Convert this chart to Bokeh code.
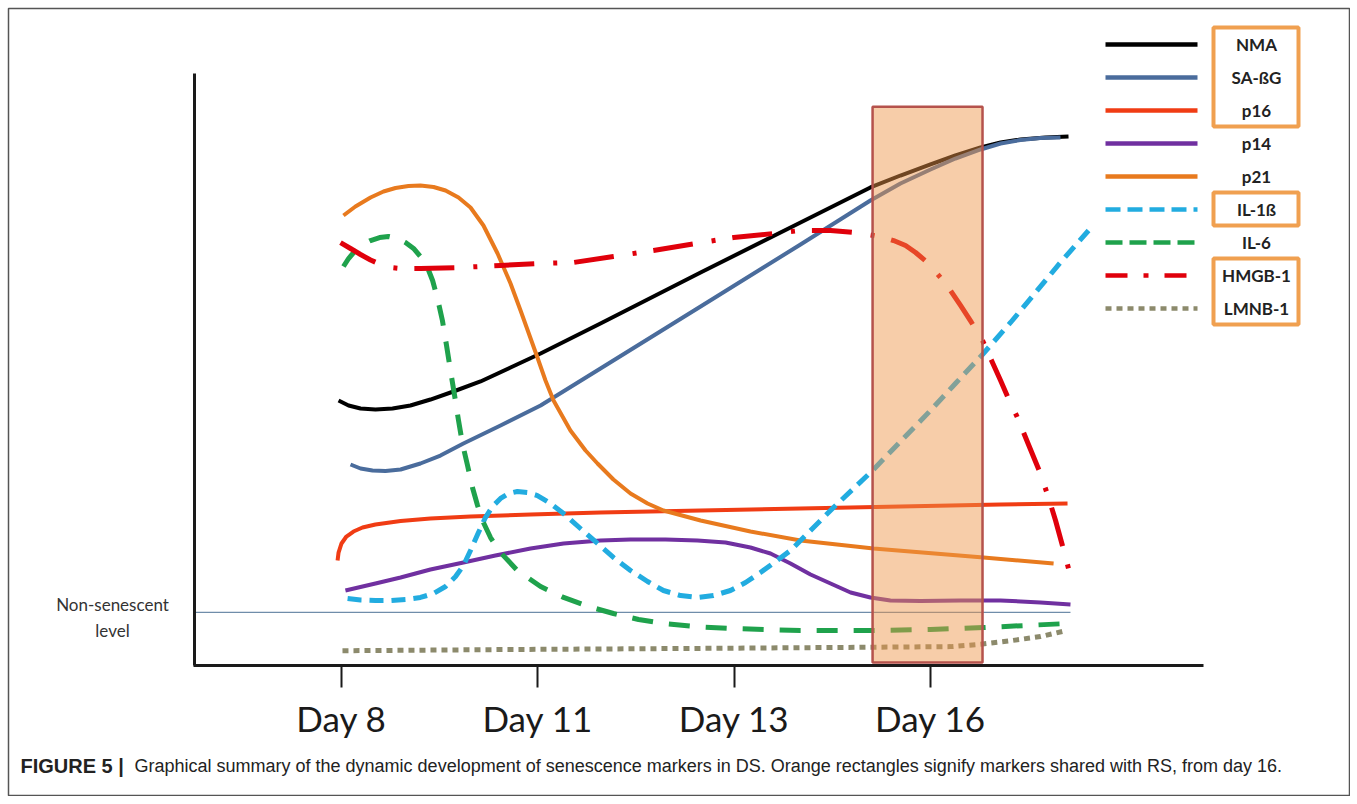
from bokeh.plotting import figure
from bokeh.models import Range1d, LinearAxis, FixedTicker, Label
from bokeh.embed import file_html
from bokeh.resources import INLINE

# ---------------- data (x: position of the day tick, 0 = Day 8; y: marker level) ----------------
days = ["Day 8", "Day 11", "Day 13", "Day 16"]
day_pos = [0, 1, 2, 3]

nma_x = [-0.015, 0.036, 0.097, 0.173, 0.260, 0.351, 0.453, 0.570, 0.708, 0.861, 1.014, 1.319, 1.829, 2.338,
         2.694, 2.847, 3.000, 3.127, 3.255, 3.357, 3.458, 3.586, 3.703]
nma_y = [44.92, 44.07, 43.56, 43.39, 43.56, 44.07, 45.08, 46.44, 48.14, 50.51, 52.88, 57.97, 66.61, 75.08,
         81.02, 83.05, 84.92, 86.44, 87.80, 88.64, 89.15, 89.49, 89.66]

sabg_x = [0.046, 0.097, 0.158, 0.224, 0.301, 0.402, 0.504, 0.621, 0.810, 1.014, 1.319, 1.829, 2.338, 2.694,
          2.847, 3.000, 3.127, 3.255, 3.357, 3.458, 3.560, 3.662]
sabg_y = [34.07, 33.39, 33.05, 32.97, 33.22, 34.24, 35.59, 37.63, 40.68, 44.07, 50.34, 60.85, 71.36, 78.81,
          81.69, 84.07, 85.93, 87.46, 88.47, 89.07, 89.41, 89.49]

p16_x = [-0.020, -0.015, 0.000, 0.025, 0.061, 0.107, 0.173, 0.301, 0.453, 0.657, 0.963, 1.319, 1.829, 2.338,
         2.847, 3.357, 3.698]
p16_y = [17.80, 19.15, 20.68, 21.86, 22.71, 23.39, 23.90, 24.49, 24.92, 25.25, 25.59, 25.93, 26.27, 26.61,
         26.95, 27.29, 27.46]

p14_x = [0.020, 0.173, 0.301, 0.453, 0.621, 0.784, 0.963, 1.131, 1.319, 1.472, 1.650, 1.813, 1.956, 2.083,
         2.185, 2.287, 2.389, 2.491, 2.593, 2.694, 2.796, 2.949, 3.153, 3.357, 3.560, 3.713]
p14_y = [12.71, 13.90, 14.92, 16.27, 17.46, 18.64, 19.83, 20.68, 21.19, 21.36, 21.36, 21.19, 20.85, 20.00,
         18.98, 17.29, 15.42, 13.90, 12.37, 11.53, 11.02, 10.93, 11.02, 11.02, 10.68, 10.34]

p21_x = [0.010, 0.071, 0.148, 0.214, 0.275, 0.341, 0.402, 0.469, 0.530, 0.596, 0.657, 0.723, 0.795, 0.861,
         0.912, 0.998, 1.039, 1.080, 1.166, 1.243, 1.304, 1.385, 1.472, 1.559, 1.640, 1.829, 2.083, 2.338,
         2.710, 3.270, 3.627]
p21_y = [76.27, 77.80, 79.32, 80.34, 80.93, 81.27, 81.36, 81.10, 80.51, 79.32, 77.63, 74.58, 69.83, 64.75,
         60.17, 52.20, 48.31, 44.92, 39.83, 36.44, 34.24, 31.53, 29.15, 27.46, 26.27, 24.58, 22.71, 21.19,
         19.83, 18.31, 17.29]

il1b_x = [0.031, 0.097, 0.173, 0.250, 0.326, 0.402, 0.469, 0.530, 0.581, 0.621, 0.657, 0.693, 0.733, 0.769,
          0.810, 0.851, 0.896, 0.947, 0.998, 1.065, 1.131, 1.217, 1.304, 1.385, 1.472, 1.559, 1.640, 1.727,
          1.813, 1.895, 1.981, 2.058, 2.134, 2.211, 2.287, 2.389, 2.506, 2.603, 2.705, 2.847, 3.000, 3.127,
          3.265, 3.408, 3.535, 3.662, 3.805]
il1b_y = [11.36, 11.10, 11.02, 11.02, 11.19, 11.53, 12.20, 13.39, 15.08, 16.95, 19.49, 22.20, 25.08, 26.95,
          28.31, 29.15, 29.49, 29.32, 28.81, 27.46, 25.76, 23.22, 20.68, 18.31, 16.10, 14.24, 12.71, 11.86,
          11.53, 11.86, 12.71, 14.07, 15.76, 17.63, 19.49, 22.88, 26.78, 29.83, 33.05, 37.97, 43.22, 47.80,
          52.71, 58.14, 63.22, 68.31, 73.73]

il6_x = [0.010, 0.036, 0.071, 0.107, 0.148, 0.194, 0.239, 0.285, 0.326, 0.367, 0.402, 0.438, 0.464, 0.489,
         0.514, 0.535, 0.555, 0.576, 0.596, 0.616, 0.642, 0.667, 0.693, 0.723, 0.759, 0.810, 0.896, 1.014,
         1.131, 1.258, 1.385, 1.513, 1.640, 1.829, 1.981, 2.338, 2.710, 3.000, 3.270, 3.698]
il6_y = [67.63, 68.98, 70.34, 71.36, 72.03, 72.54, 72.71, 72.37, 71.69, 70.68, 69.32, 67.46, 65.25, 62.20,
         58.47, 54.24, 50.00, 45.76, 41.53, 37.63, 33.90, 30.17, 27.12, 24.24, 21.69, 19.15, 16.10, 13.39,
         11.53, 10.00, 8.81, 7.80, 7.12, 6.53, 6.27, 5.93, 5.93, 6.10, 6.44, 7.12]

hmgb_x = [-0.005, 0.046, 0.097, 0.148, 0.199, 0.250, 0.301, 0.402, 0.606, 0.810, 1.014, 1.182, 1.385, 1.589,
          1.803, 1.997, 2.200, 2.338, 2.491, 2.608, 2.710, 2.761, 2.812, 2.873, 2.924, 2.985, 3.051, 3.102,
          3.153, 3.209, 3.265, 3.311, 3.357, 3.397, 3.443, 3.499, 3.560, 3.601, 3.637, 3.672, 3.703]
hmgb_y = [71.69, 70.68, 69.66, 68.73, 67.97, 67.46, 67.29, 67.29, 67.46, 67.80, 68.14, 68.31, 69.32, 70.34,
          71.53, 72.54, 73.22, 73.73, 73.73, 73.39, 72.88, 72.54, 72.03, 71.19, 70.00, 68.31, 65.76, 63.56,
          61.02, 58.14, 55.08, 51.69, 48.31, 45.25, 42.03, 37.46, 32.54, 28.47, 24.58, 20.34, 16.44]

lmnb_x = [0.005, 0.810, 1.829, 2.710, 3.102, 3.255, 3.408, 3.560, 3.688]
lmnb_y = [2.5, 2.7, 2.9, 3.1, 3.2, 3.6, 4.2, 4.9, 5.9]

non_senescent_level = 9.0
non_senescent_span = [-0.749, 3.713]

highlight_x = [2.705, 3.265]   # Day 16 window
highlight_y = [0.5, 94.7]

names = ["NMA", "SA-ßG", "p16", "p14", "p21", "IL-1ß", "IL-6", "HMGB-1", "LMNB-1"]
shared_groups = [(0, 2), (5, 5), (7, 8)]  # legend rows boxed in orange

# ---------------- styles ----------------
series = [
    (nma_x, nma_y, "#000000", "solid", "solid", 4),
    (sabg_x, sabg_y, "#4A6C9C", "solid", "solid", 4),
    (p16_x, p16_y, "#F03C14", "solid", "solid", 4),
    (p14_x, p14_y, "#7030A0", "solid", "solid", 4),
    (p21_x, p21_y, "#E87A1E", "solid", "solid", 4),
    (il1b_x, il1b_y, "#22ACE0", "14 8", "15 7", 5),
    (il6_x, il6_y, "#1FA24C", "21 16", "17 7", 5),
    (hmgb_x, hmgb_y, "#E0000B", "40 19 4 17", "22 16 5 16", 5),
    (lmnb_x, lmnb_y, "#8C8A6C", "6 5", "6 5", 5),
]

# ---------------- layout helpers (page pixels -> data) ----------------
W, H = 1350, 796
OX, OY = 0, 0
DAY0_PX, DAY_STEP = 341.0, 196.33
ZERO_PY, UNIT_PX = 665.0, 5.9


def X(px):
    return (px - DAY0_PX) / DAY_STEP


def Y(py):
    return (ZERO_PY - py) / UNIT_PX


p = figure(width=W, height=H, output_backend="svg", toolbar_location=None,
           x_range=Range1d(X(OX), X(OX + W)), y_range=Range1d(Y(OY + H), Y(OY)),
           x_axis_type=None, y_axis_type=None,
           min_border=0, min_border_left=0, min_border_right=0,
           min_border_top=0, min_border_bottom=0)
p.outline_line_color = None
p.background_fill_color = "white"
p.border_fill_color = "white"

# outer figure frame
p.quad(left=X(8), right=X(1349), bottom=Y(795), top=Y(8), fill_color=None,
       line_color="#555555", line_width=1.5)

# axes
xaxis = LinearAxis(fixed_location=0, bounds=(X(193), X(1203)),
                   ticker=FixedTicker(ticks=day_pos),
                   major_label_overrides={d: lab for d, lab in zip(day_pos, days)})
xaxis.axis_line_width = 3
xaxis.axis_line_color = "#1a1a1a"
xaxis.major_tick_in = 0
xaxis.major_tick_out = 22
xaxis.major_tick_line_width = 2
xaxis.major_tick_line_color = "#1a1a1a"
xaxis.minor_tick_in = 0
xaxis.minor_tick_out = 0
xaxis.major_label_standoff = 9
xaxis.major_label_text_font = "Lato"
xaxis.major_label_text_font_size = "35px"
xaxis.major_label_text_color = "#1a1a1a"
p.add_layout(xaxis, "below")

yaxis = LinearAxis(fixed_location=X(194), bounds=(0, 100.3), ticker=FixedTicker(ticks=[]))
yaxis.axis_line_width = 3
yaxis.axis_line_color = "#1a1a1a"
yaxis.major_tick_in = 0
yaxis.major_tick_out = 0
yaxis.minor_tick_in = 0
yaxis.minor_tick_out = 0
yaxis.major_label_text_font_size = "0px"
p.add_layout(yaxis, "left")

# non-senescent reference line
p.line(non_senescent_span, [non_senescent_level] * 2, line_color="#6F8DAA", line_width=1.3)
p.add_layout(Label(x=X(112), y=Y(604), text="Non-senescent", text_align="center", text_baseline="middle",
                   text_font="Lato", text_font_size="17px", text_color="#333333"))
p.add_layout(Label(x=X(112), y=Y(630), text="level", text_align="center", text_baseline="middle",
                   text_font="Lato", text_font_size="17px", text_color="#333333"))

# curves
for xs, ys, col, dash, _, lw in series:
    p.line(xs, ys, line_color=col, line_width=lw, line_dash=dash,
           line_join="round", line_cap="butt")

# Day 16 highlight rectangle (drawn over the curves)
p.quad(left=highlight_x[0], right=highlight_x[1], bottom=highlight_y[0], top=highlight_y[1],
       fill_color="#EE9548", fill_alpha=0.47, line_color="#B5524C", line_width=2.5)

# legend
ROW0, ROW_STEP = 44, 33.0
for i, (name, (xs, ys, col, _, ldash, lw)) in enumerate(zip(names, series)):
    ry = ROW0 + ROW_STEP * i
    p.line([X(1105), X(1197)], [Y(ry), Y(ry)], line_color=col, line_width=4.5, line_dash=ldash)
    p.add_layout(Label(x=X(1256), y=Y(ry), text=name, text_align="center", text_baseline="middle",
                       text_font="Lato", text_font_style="bold", text_font_size="17px",
                       text_color="#222222"))
for a, b in shared_groups:
    p.quad(left=X(1213), right=X(1298), top=Y(ROW0 + ROW_STEP * a - 17), bottom=Y(ROW0 + ROW_STEP * b + 16),
           fill_color=None, line_color="#F0A050", line_width=4)

# caption
p.add_layout(Label(x=X(20), y=Y(765), text="FIGURE 5 |", text_align="left", text_baseline="middle",
                   text_font="Liberation Sans", text_font_style="bold", text_font_size="20px",
                   text_color="#222222"))
p.add_layout(Label(x=X(134), y=Y(765),
                   text="Graphical summary of the dynamic development of senescence markers in DS. "
                        "Orange rectangles signify markers shared with RS, from day 16.",
                   text_align="left", text_baseline="middle",
                   text_font="Liberation Sans", text_font_size="18px", text_color="#222222"))

open("out.html", "w").write(file_html(p, INLINE))
